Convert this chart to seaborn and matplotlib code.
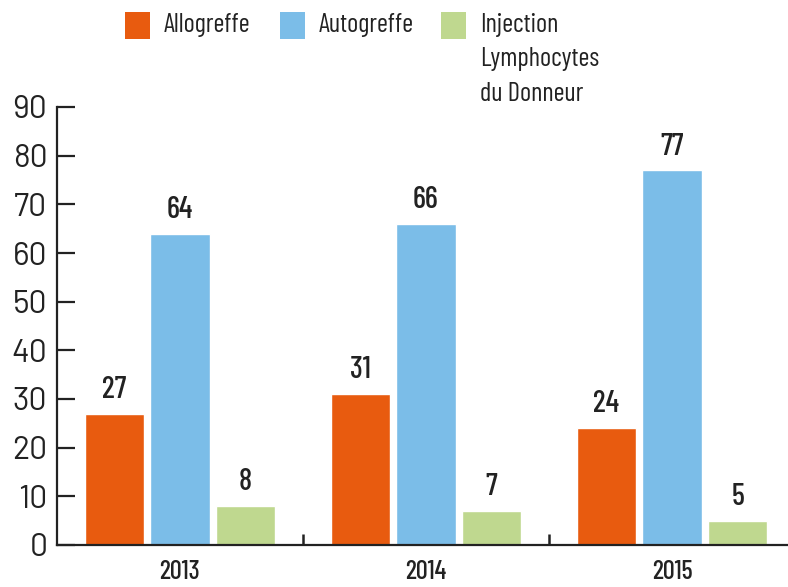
import matplotlib
matplotlib.use("Agg")
import matplotlib.pyplot as plt
from matplotlib.patches import Rectangle
import seaborn as sns
import pandas as pd

years = ["2013", "2014", "2015"]
series = ["Allogreffe", "Autogreffe", "Injection\nLymphocytes\ndu Donneur"]
allogreffe = [27, 31, 24]
autogreffe = [64, 66, 77]
injection = [8, 7, 5]
colors = ["#E85B0F", "#7BBDE8", "#BFD88F"]
yticks = [0, 10, 20, 30, 40, 50, 60, 70, 80, 90]

rows = []
for s, vals in zip(series, [allogreffe, autogreffe, injection]):
    for y, v in zip(years, vals):
        rows.append({"year": y, "series": s, "value": v})
df = pd.DataFrame(rows)

sns.set_theme(style="white")
cond = ["Barlow Condensed", "DejaVu Sans"]
plt.rcParams["font.family"] = cond
txt = "#222222"

fig = plt.figure(figsize=(7.88, 5.87), dpi=100)
ax = fig.add_axes([57/788, 1-545/587, 1-57/788, (545-107)/587])

sns.barplot(data=df, x="year", y="value", hue="series", palette=colors,
            width=0.8, gap=0.1, ax=ax, legend=False, saturation=1)

for c in ax.containers:
    ax.bar_label(c, padding=7, fontsize=22, color=txt, fontweight=500)

ax.set_xlim(-0.5, -0.5 + 731/246)
ax.set_ylim(0, 90)
ax.set_yticks(yticks)
ax.set_yticklabels([str(t) for t in yticks], family=["Barlow", "DejaVu Sans"], fontsize=23, color=txt)
ax.set_xticks(range(len(years)))
ax.set_xticklabels(years, fontsize=19, color=txt, fontweight=500)
ax.set_xticks([0.5, 1.5], minor=True)
ax.tick_params(axis="x", which="major", length=0, pad=11)
ax.tick_params(axis="x", which="minor", direction="in", length=8, width=1.8, color=txt, bottom=True)
ax.tick_params(axis="y", which="major", direction="in", length=13, width=1.6, color=txt, pad=7, left=True)
ax.set_xlabel("")
ax.set_ylabel("")
for s in ["top", "right"]:
    ax.spines[s].set_visible(False)
for s in ["left", "bottom"]:
    ax.spines[s].set_color(txt)
    ax.spines[s].set_linewidth(1.6)
ax.grid(False)

# legend
leg_x = [125, 280, 441]
for x, col, lab in zip(leg_x, colors, series):
    fig.add_artist(Rectangle((x/788, 1-39/587), 25/788, 27/587, transform=fig.transFigure,
                             facecolor=col, edgecolor="none"))
    fig.text((x+39)/788, 1-13/587, lab, ha="left", va="top", fontsize=19, color=txt,
             fontweight=400, linespacing=1.55)

fig.savefig("out.png", dpi=100)
